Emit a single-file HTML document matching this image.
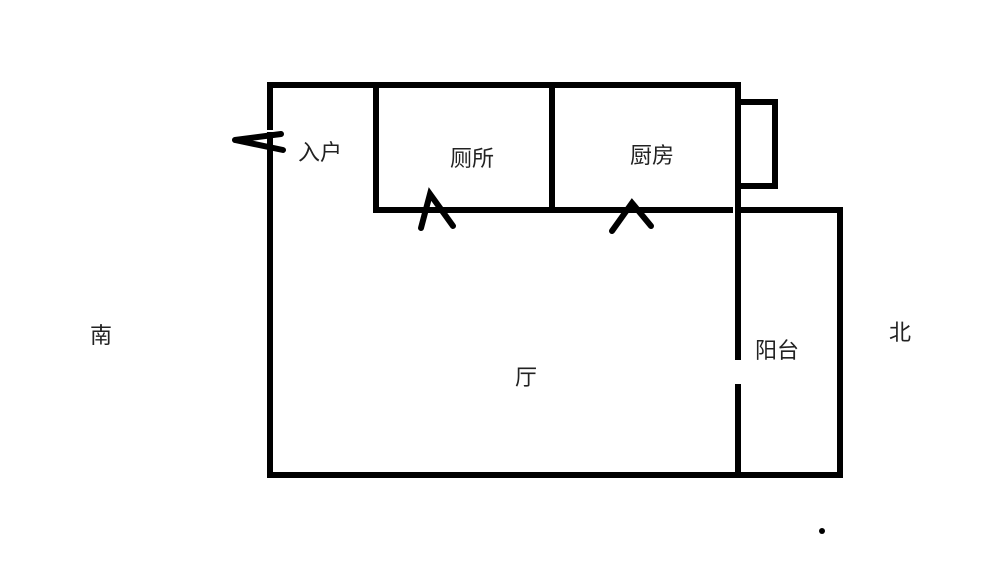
<!DOCTYPE html><html><head><meta charset="utf-8"><style>body{margin:0;background:#fff}svg{display:block}text{font-family:"Liberation Sans","Noto Sans CJK SC",sans-serif;font-size:22px;fill:#222}</style></head><body>
<svg width="1000" height="570" xmlns="http://www.w3.org/2000/svg">
<g stroke="#000" stroke-width="6" fill="none" stroke-linecap="square">
<path d="M270 127V85H738V357M738 387V475"/>
<path d="M270 135V475H840V210H741"/>
<path d="M376 85V210H730M552 85V210"/>
<path d="M741 102H775V186H741"/>
</g>
<g stroke="#000" stroke-width="6" fill="none" stroke-linecap="round">
<path d="M235 140L281 134M235 140L283 150"/>
<path d="M421 228L430 194L453 226"/>
<path d="M612 231L632 203L651 226"/>
</g>
<circle cx="822" cy="531" r="3" fill="#000"/>
<text x="298" y="160">入户</text>
<text x="450" y="166">厕所</text>
<text x="630" y="163">厨房</text>
<text x="515" y="385">厅</text>
<text x="755" y="358">阳台</text>
<text x="90" y="343">南</text>
<text x="889" y="340">北</text>
</svg></body></html>
